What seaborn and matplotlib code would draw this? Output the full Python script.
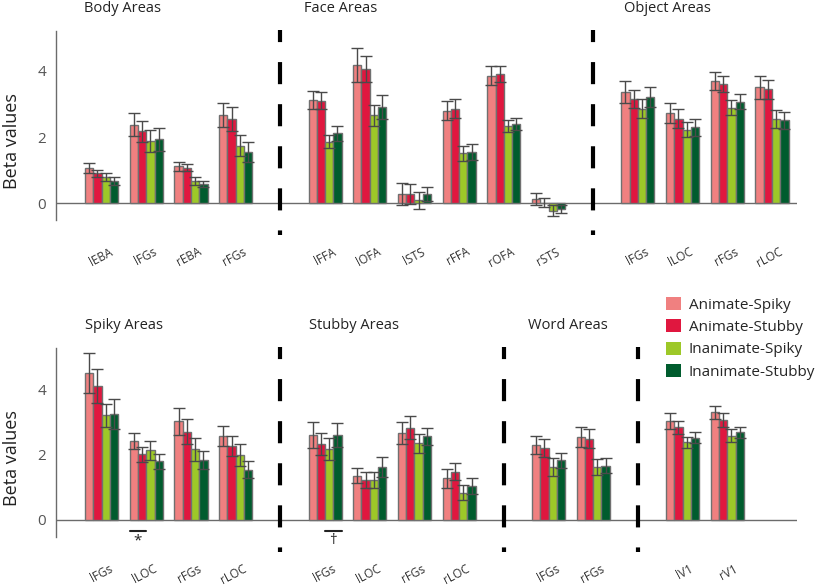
import matplotlib
matplotlib.use("Agg")
import matplotlib.pyplot as plt
import matplotlib.transforms as mtransforms
from matplotlib.patches import Patch
import seaborn as sns
import pandas as pd
import numpy as np


conditions = ["Animate-Spiky", "Animate-Stubby", "Inanimate-Spiky", "Inanimate-Stubby"]
palette = ["#F08080", "#E0173F", "#9DC828", "#005C2E"]

# top row: body / face / object areas
body_rois = ["lEBA", "lFGs", "rEBA", "rFGs"]
body_means = [[1.06, 0.90, 0.79, 0.67], [2.37, 2.17, 1.88, 1.93],
              [1.11, 1.07, 0.67, 0.58], [2.67, 2.55, 1.74, 1.55]]
body_errs = [[0.15, 0.10, 0.13, 0.13], [0.35, 0.32, 0.32, 0.34],
             [0.13, 0.11, 0.12, 0.09], [0.37, 0.37, 0.32, 0.31]]

face_rois = ["lFFA", "lOFA", "lSTS", "rFFA", "rOFA", "rSTS"]
face_means = [[3.12, 3.10, 1.86, 2.11], [4.17, 4.06, 2.65, 2.91],
              [0.27, 0.28, 0.09, 0.28], [2.80, 2.85, 1.51, 1.55],
              [3.85, 3.90, 2.32, 2.40], [0.12, 0.02, -0.22, -0.17]]
face_errs = [[0.28, 0.25, 0.20, 0.23], [0.51, 0.40, 0.31, 0.36],
             [0.33, 0.29, 0.26, 0.21], [0.30, 0.29, 0.23, 0.24],
             [0.28, 0.23, 0.18, 0.18], [0.18, 0.13, 0.16, 0.13]]

object_rois = ["lFGs", "lLOC", "rFGs", "rLOC"]
object_means = [[3.36, 3.15, 2.85, 3.21], [2.72, 2.55, 2.22, 2.29],
                [3.70, 3.60, 2.89, 3.07], [3.50, 3.44, 2.54, 2.50]]
object_errs = [[0.33, 0.27, 0.29, 0.31], [0.30, 0.29, 0.22, 0.25],
               [0.27, 0.25, 0.23, 0.23], [0.34, 0.29, 0.28, 0.27]]

# bottom row: spiky / stubby / word areas and V1
spiky_rois = ["lFGs", "lLOC", "rFGs", "rLOC"]
spiky_means = [[4.49, 4.10, 3.20, 3.24], [2.42, 2.01, 2.13, 1.79],
               [3.02, 2.70, 2.16, 1.84], [2.56, 2.27, 1.98, 1.53]]
spiky_errs = [[0.61, 0.53, 0.35, 0.47], [0.25, 0.23, 0.29, 0.23],
              [0.41, 0.38, 0.35, 0.27], [0.30, 0.30, 0.33, 0.26]]

stubby_rois = ["lFGs", "lLOC", "rFGs", "rLOC"]
stubby_means = [[2.59, 2.33, 2.16, 2.60], [1.35, 1.22, 1.23, 1.63],
                [2.65, 2.82, 2.35, 2.56], [1.27, 1.48, 0.84, 1.04]]
stubby_errs = [[0.40, 0.33, 0.34, 0.36], [0.23, 0.24, 0.25, 0.30],
               [0.34, 0.35, 0.29, 0.26], [0.28, 0.25, 0.24, 0.23]]

word_rois = ["lFGs", "rFGs"]
word_means = [[2.30, 2.20, 1.62, 1.82], [2.53, 2.49, 1.63, 1.66]]
word_errs = [[0.27, 0.27, 0.27, 0.24], [0.31, 0.30, 0.25, 0.23]]

v1_rois = ["lV1", "rV1"]
v1_means = [[3.02, 2.83, 2.38, 2.52], [3.29, 3.06, 2.58, 2.68]]
v1_errs = [[0.25, 0.21, 0.17, 0.16], [0.20, 0.21, 0.21, 0.16]]

top_panel = [("Body Areas", body_rois, body_means, body_errs, 0.46),
             ("Face Areas", face_rois, face_means, face_errs, 0.34),
             ("Object Areas", object_rois, object_means, object_errs, 0.65)]
bottom_panel = [("Spiky Areas", spiky_rois, spiky_means, spiky_errs, 0.5),
                ("Stubby Areas", stubby_rois, stubby_means, stubby_errs, 0.65),
                ("Word Areas", word_rois, word_means, word_errs, 0.44),
                ("", v1_rois, v1_means, v1_errs, 0.0)]

# significance marks: (group, roi, bars covered, symbol)
bottom_marks = [("Spiky Areas", "lLOC", (0, 1), "*"),
                ("Stubby Areas", "lFGs", (2, 3), "\u2020")]


def build(panel):
    rows, order, labels = [], [], []
    for gi, (title, rois, means, errs, _) in enumerate(panel):
        if gi > 0:
            order.append(f"gap{gi}")
            labels.append("")
        for roi, m, e in zip(rois, means, errs):
            key = f"{title}:{roi}"
            order.append(key)
            labels.append(roi)
            for c, mv, ev in zip(conditions, m, e):
                rows.append(dict(slot=key, condition=c, beta=mv, err=ev))
    return pd.DataFrame(rows), order, labels


sns.set_style("white")
plt.rcParams["font.family"] = ["Open Sans", "DejaVu Sans"]

fig = plt.figure(figsize=(8.2, 5.86), dpi=100)
W, H = 820, 586
ax_top = fig.add_axes([56 / W, 1 - 220 / H, 741 / W, 189 / H])
ax_bot = fig.add_axes([56 / W, 1 - 537 / H, 741 / W, 189 / H])

grey = "#6b6b6b"
width = 0.74
bw = width / 4


def draw(ax, panel, ylim, div_span, label_dy, marks=()):
    df, order, labels = build(panel)
    sns.barplot(data=df, x="slot", y="beta", hue="condition", order=order,
                hue_order=conditions, palette=palette, width=width,
                errorbar=None, edgecolor="#707070", linewidth=1,
                saturation=1, legend=False, ax=ax)
    ax.set_xlim(-1.02, 15.56)
    ax.set_ylim(*ylim)

    # thick dashed separators between region groups
    for i, k in enumerate(order):
        if k.startswith("gap"):
            ax.plot([i, i], div_span, color="black", lw=3,
                    linestyle=(2.4, (5.3, 4.8)), clip_on=False, zorder=10)

    err_lookup = {(r.slot, r.condition): r.err for r in df.itertuples()}
    xs, ys, es = [], [], []
    for p in ax.patches:
        xc = p.get_x() + p.get_width() / 2
        slot = int(round(xc))
        hi = int(round((xc - slot + width / 2) / bw - 0.5))
        xs.append(xc)
        ys.append(p.get_height())
        es.append(err_lookup[(order[slot], conditions[hi])])
    ax.errorbar(xs, ys, yerr=es, fmt="none", ecolor="#4a4a4a",
                elinewidth=1, capsize=4.3, capthick=1)

    ax.axhline(0, color=grey, lw=1, zorder=0)
    sns.despine(ax=ax, bottom=True)
    ax.spines["left"].set_color(grey)
    ax.spines["left"].set_linewidth(1)

    ax.set_yticks([0, 2, 4])
    ax.tick_params(axis="y", direction="in", length=6, width=1, color=grey,
                   labelsize=11, labelcolor="#555555", pad=7)
    ticks = [i for i, k in enumerate(order) if not k.startswith("gap")]
    ax.set_xticks(ticks)
    ax.set_xticklabels([labels[i] for i in ticks], fontsize=8.5,
                       color="#333333", rotation=28, ha="right", va="center",
                       rotation_mode="anchor")
    ax.tick_params(axis="x", length=0, pad=0)
    shift = mtransforms.ScaledTranslation(10 / 100, -label_dy / 100,
                                          fig.dpi_scale_trans)
    for lab in ax.get_xticklabels():
        lab.set_transform(lab.get_transform() + shift)

    ax.set_xlabel("")
    ax.set_ylabel("Beta values", fontsize=13, color="#222222")
    ax.yaxis.set_label_coords(-0.047, 0.42)

    trans = mtransforms.blended_transform_factory(ax.transData, ax.transAxes)
    for title, rois, _, _, off in panel:
        if title:
            first = order.index(f"{title}:{rois[0]}")
            ax.text(first + off, 1.12, title, transform=trans, ha="center",
                    va="center", fontsize=10.5, color="#222222")

    for title, roi, bars, sym in marks:
        s = order.index(f"{title}:{roi}")
        x0 = s - width / 2 + bars[0] * bw
        x1 = s - width / 2 + (bars[1] + 1) * bw
        ax.plot([x0, x1], [-0.34, -0.34], color="#222222", lw=1.5,
                clip_on=False)
        ax.text((x0 + x1) / 2, -0.40, sym, ha="center", va="top",
                fontsize=11, color="#222222")


draw(ax_top, top_panel, (-0.505, 5.2), [5.24, -0.96], 31)
draw(ax_bot, bottom_panel, (-0.52, 5.26), [5.29, -0.98], 31, bottom_marks)

handles = [Patch(facecolor=c, edgecolor="none", label=l)
           for c, l in zip(palette, conditions)]
fig.legend(handles=handles, loc="upper left",
           bbox_to_anchor=(666 / W, 1 - 297 / H), frameon=False,
           fontsize=11, handlelength=0.95, handleheight=0.95,
           handletextpad=0.55, labelspacing=0.42, borderpad=0,
           borderaxespad=0)

fig.savefig("out.png", dpi=100)
